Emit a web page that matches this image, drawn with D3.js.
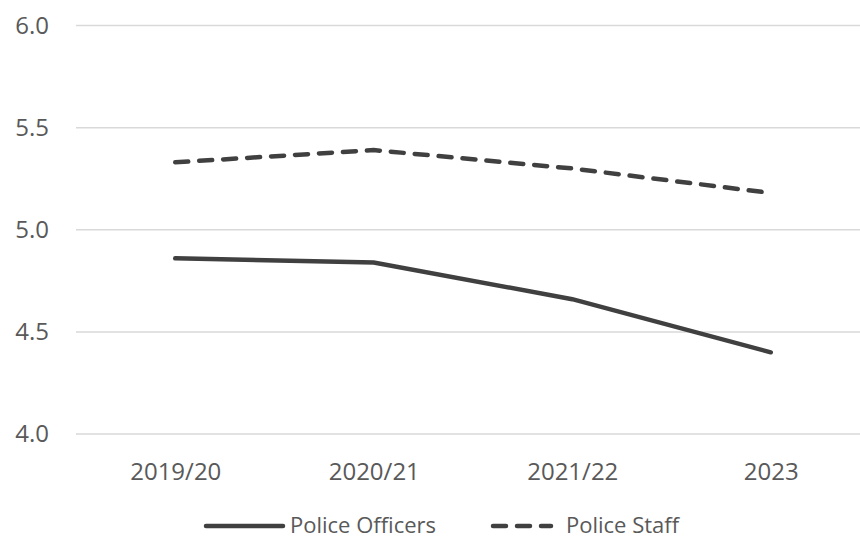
<!DOCTYPE html>
<html>
<head>
<meta charset="utf-8">
<script src="https://cdn.jsdelivr.net/npm/d3@7"></script>
<style>
  body { margin: 0; background: #fff; }
  text { font-family: "Open Sans", sans-serif; fill: #595959; }
</style>
</head>
<body>
<div class="chart"></div>
<script>
var categories = ["2019/20", "2020/21", "2021/22", "2023"];
var officers = [4.86, 4.84, 4.66, 4.40];
var staff = [5.33, 5.39, 5.30, 5.18];
var yTicks = [4.0, 4.5, 5.0, 5.5, 6.0];

var svgWidth = 860;
var svgHeight = 540;

var svg = d3.select(".chart")
  .append("svg")
  .attr("width", svgWidth)
  .attr("height", svgHeight);

var xScale = d3.scalePoint()
  .domain(categories)
  .range([76, 870])
  .padding(0.5);

var yScale = d3.scaleLinear()
  .domain([4.0, 6.0])
  .range([434, 25.5]);

// gridlines
svg.append("g")
  .selectAll("line")
  .data(yTicks)
  .enter()
  .append("line")
  .attr("x1", 76)
  .attr("x2", 860)
  .attr("y1", d => yScale(d))
  .attr("y2", d => yScale(d))
  .attr("stroke", "#d9d9d9")
  .attr("stroke-width", 1.5);

// y axis labels
var leftAxis = d3.axisLeft(yScale)
  .tickValues(yTicks)
  .tickFormat(d3.format(".1f"))
  .tickSize(0)
  .tickPadding(0);

var yAxis = svg.append("g")
  .attr("transform", "translate(49, 0)")
  .call(leftAxis);
yAxis.select(".domain").remove();
yAxis.selectAll("text")
  .attr("font-size", "24px")
  .style("font-family", "'Open Sans', sans-serif")
  .attr("fill", "#595959");

// x axis labels
var bottomAxis = d3.axisBottom(xScale)
  .tickSize(0)
  .tickPadding(0);

var xAxis = svg.append("g")
  .attr("transform", "translate(0, 463)")
  .call(bottomAxis);
xAxis.select(".domain").remove();
xAxis.selectAll("text")
  .attr("font-size", "24px")
  .style("font-family", "'Open Sans', sans-serif")
  .attr("fill", "#595959");

var line = d3.line()
  .x((d, i) => xScale(categories[i]))
  .y(d => yScale(d));

svg.append("path")
  .datum(officers)
  .attr("d", line)
  .attr("fill", "none")
  .attr("stroke", "#404040")
  .attr("stroke-width", 4.5)
  .attr("stroke-linecap", "round");

svg.append("path")
  .datum(staff)
  .attr("d", line)
  .attr("fill", "none")
  .attr("stroke", "#404040")
  .attr("stroke-width", 4.5)
  .attr("stroke-linecap", "round")
  .attr("stroke-dasharray", "13,11");

// legend
var legend = svg.append("g");
legend.append("line")
  .attr("x1", 206).attr("x2", 283)
  .attr("y1", 526).attr("y2", 526)
  .attr("stroke", "#404040")
  .attr("stroke-width", 4.5)
  .attr("stroke-linecap", "round");
legend.append("text")
  .attr("x", 290).attr("y", 533)
  .attr("font-size", "22px")
  .text("Police Officers");

legend.append("line")
  .attr("x1", 493).attr("x2", 551)
  .attr("y1", 526).attr("y2", 526)
  .attr("stroke", "#404040")
  .attr("stroke-width", 4.5)
  .attr("stroke-linecap", "round")
  .attr("stroke-dasharray", "13,11");
legend.append("text")
  .attr("x", 566).attr("y", 533)
  .attr("font-size", "22px")
  .text("Police Staff");
</script>
</body>
</html>
